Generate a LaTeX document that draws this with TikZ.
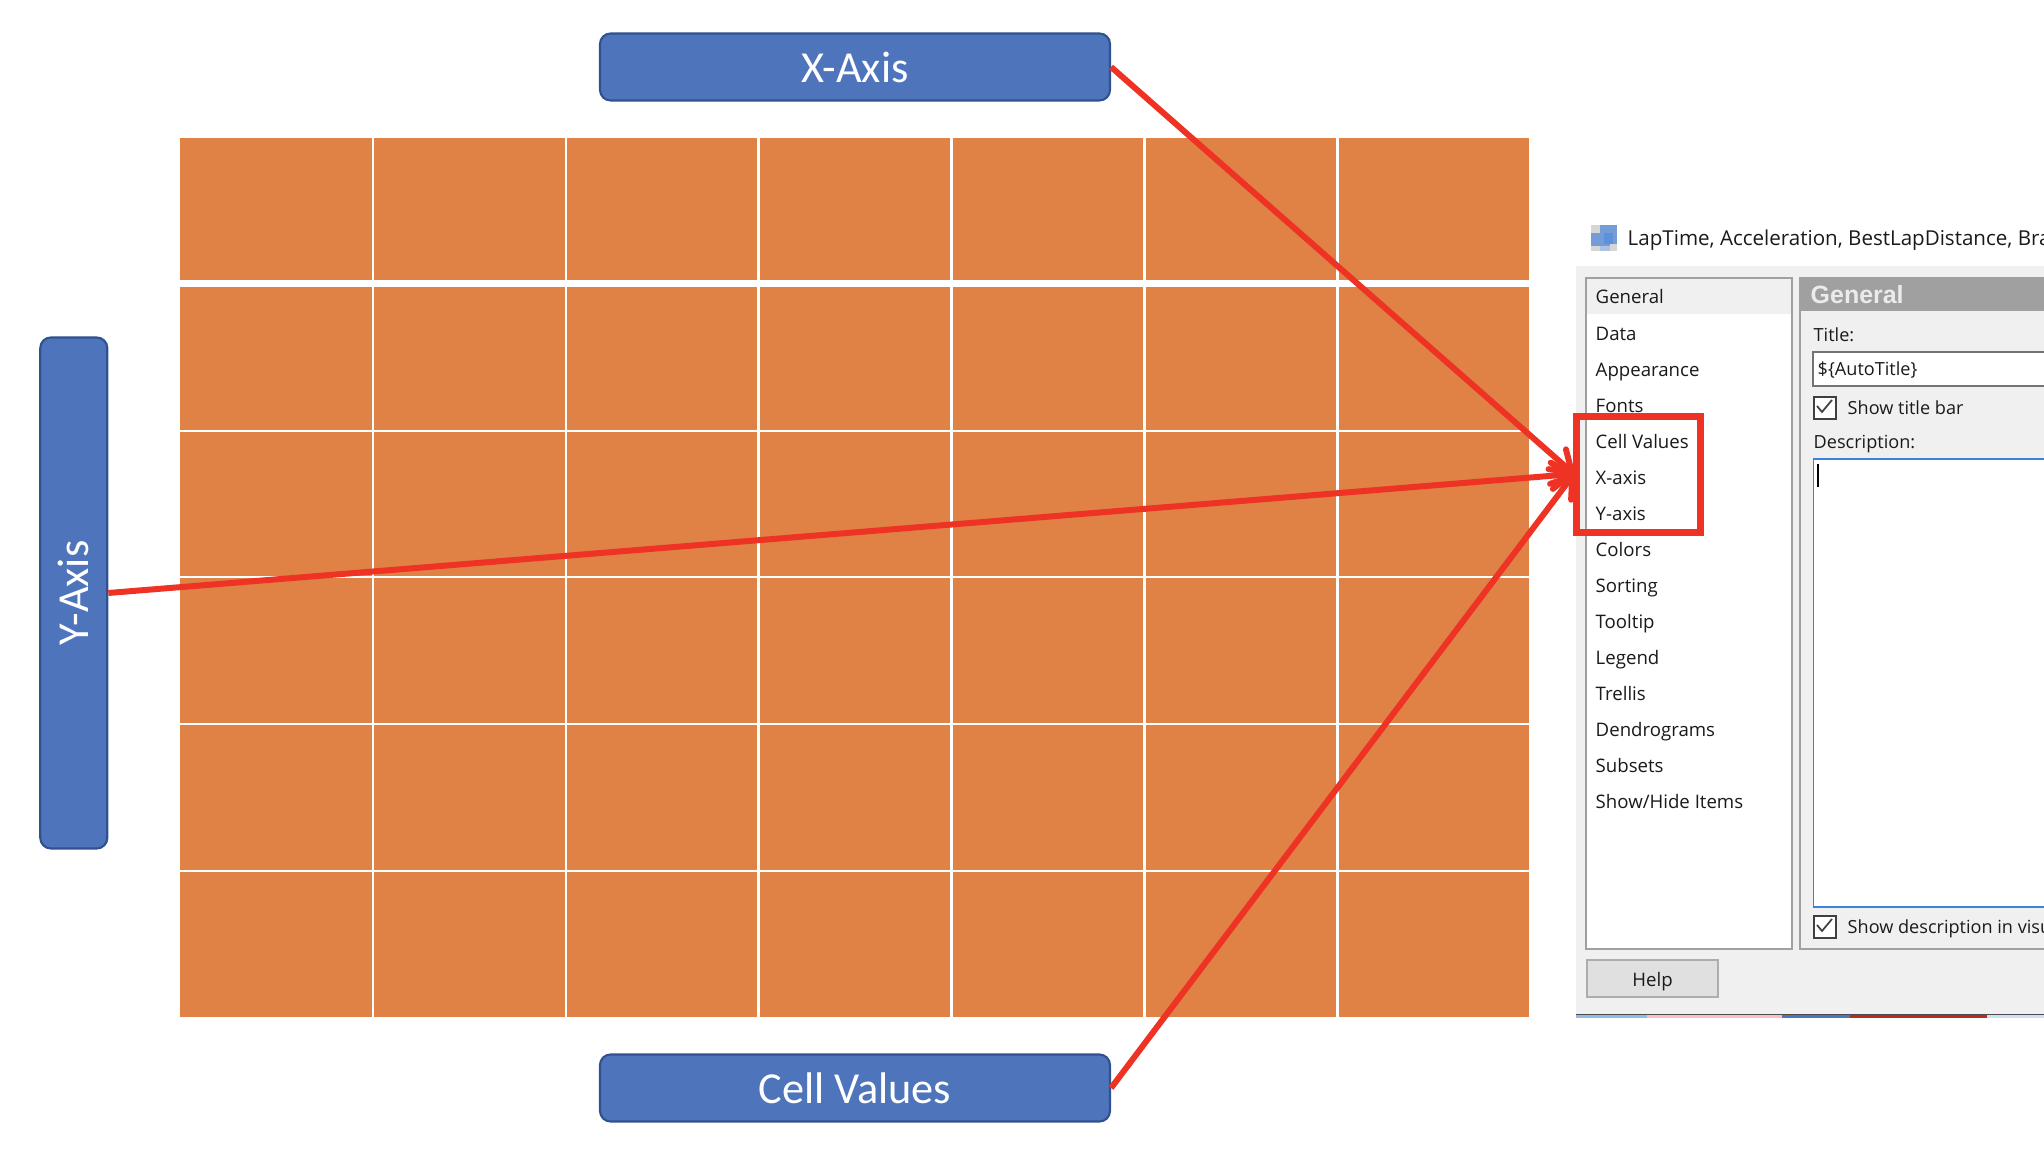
\documentclass[tikz,border=0pt]{standalone}
\usepackage{fontspec}
\setmainfont{Open Sans}
\newfontfamily\boxfont{Carlito}
\newfontfamily\headfont{Liberation Sans}
\usetikzlibrary{arrows.meta}
\definecolor{boxblue}{HTML}{4E74BC}
\definecolor{boxedge}{HTML}{2F528F}
\definecolor{cellorange}{HTML}{E08145}
\definecolor{markred}{HTML}{EE3224}
\definecolor{dialogbg}{HTML}{F0F0F0}
\definecolor{panelgray}{HTML}{A0A0A0}
\definecolor{uitext}{HTML}{1A1A1A}
\definecolor{focusblue}{HTML}{3C82DC}
\tikzset{
  axisbox/.style={draw=boxedge, line width=0.6pt, fill=boxblue, rounded corners=3pt, text=white,
    inner sep=0pt, font=\boxfont\fontsize{12.6}{15}\selectfont},
  gridline/.style={white, line width=0.7pt},
  pointer/.style={markred, line width=1.7pt, -{Straight Barb[round, length=5.5pt, width=7.5pt]}},
  listitem/.style={anchor=base west, inner sep=0pt, text=uitext, font=\fontsize{5.3}{7}\selectfont},
  paneltext/.style={anchor=base west, inner sep=0pt, text=uitext, font=\fontsize{5.15}{7}\selectfont},
  tickbox/.style={draw=black!75, line width=0.6pt, fill=white, minimum size=0.22cm, inner sep=0pt, anchor=north west}
}
\begin{document}
\begin{tikzpicture}
  \useasboundingbox (0,0) rectangle (20.44,11.64);
  % Grid
  \fill[cellorange] (1.80,1.47) rectangle (15.29,10.26);
  \foreach \x in {3.73,5.66,7.585,9.515,11.445,13.375}{
    \draw[gridline] (\x,1.47) -- (\x,10.26);
  }
  \foreach \y in {7.33,5.87,4.40,2.93}{
    \draw[gridline] (1.80,\y) -- (15.29,\y);
  }
  \draw[white, line width=2pt] (1.80,8.80) -- (15.29,8.80);
  % Axis boxes
  \node[axisbox, minimum width=5.10cm, minimum height=0.67cm] (xaxis) at (8.55,10.97) {X-Axis};
  \node[axisbox, minimum width=5.10cm, minimum height=0.67cm] (cellvalues) at (8.55,0.76) {Cell Values};
  \node[axisbox, rotate=90, minimum width=5.11cm, minimum height=0.67cm] (yaxis) at (0.738,5.71) {Y-Axis};
  % Dialog
  \fill[dialogbg] (15.76,1.49) rectangle (20.44,8.98);
  \draw[black!70, line width=0.4pt] (15.76,1.49) -- (20.44,1.49);
  \foreach \a/\b/\c in {15.76/16.47/focusblue!55, 16.47/17.82/red!25, 17.82/18.50/boxblue, 18.50/19.87/markred!80!black, 19.87/20.44/focusblue!25}{
    \fill[\c] (\a,1.46) rectangle (\b,1.485);
  }
  % Title bar
  \fill[black!16] (15.91,9.13) rectangle (16.17,9.39);
  \fill[focusblue!45!boxblue!75] (16.00,9.20) rectangle (16.17,9.39);
  \fill[focusblue!45!boxblue!75] (15.91,9.18) rectangle (16.10,9.31);
  \fill[focusblue!70!boxblue!85] (16.04,9.20) rectangle (16.13,9.31);
  \fill[boxblue!45] (16.00,9.13) rectangle (16.10,9.18);
  \node[paneltext, font=\fontsize{5.85}{7}\selectfont] (titlebar) at (16.27,9.18) {LapTime, Acceleration, BestLapDistance, Bra};
  % List
  \filldraw[fill=white, draw=panelgray, line width=0.55pt] (15.86,2.15) rectangle (17.92,8.86);
  \fill[dialogbg] (15.87,8.50) rectangle (17.91,8.85);
  \foreach \name [count=\i] in {General,Data,Appearance,Fonts,Cell Values,X-axis,Y-axis,Colors,Sorting,Tooltip,Legend,Trellis,Dendrograms,Subsets,Show/Hide Items}{
    \node[listitem] (item\i) at (15.95,{8.60-0.3605*(\i-1)}) {\name};
  }
  % General panel
  \draw[panelgray, line width=0.55pt] (18.00,8.86) -- (18.00,2.15) -- (20.44,2.15);
  \fill[panelgray] (17.99,8.53) rectangle (20.44,8.87);
  \node[anchor=base west, inner sep=0pt, text=white!92!black, font=\headfont\bfseries\fontsize{7.1}{9}\selectfont] (panelhead) at (18.10,8.60) {General};
  \node[paneltext] (titlelabel) at (18.13,8.22) {Title:};
  \filldraw[fill=white, draw=black!55, line width=0.5pt] (18.13,7.78) rectangle (20.50,8.12);
  \node[paneltext] (titletext) at (18.17,7.88) {\$\{AutoTitle\}};
  \node[tickbox] (titletick) at (18.13,7.68) {};
  \draw[black!75, line width=0.5pt] (18.17,7.58) -- (18.22,7.52) -- (18.32,7.64);
  \node[paneltext] (titlebarlabel) at (18.47,7.49) {Show title bar};
  \node[paneltext] (desclabel) at (18.13,7.15) {Description:};
  \filldraw[fill=white, draw=focusblue, line width=0.55pt] (18.135,2.57) rectangle (20.50,7.05);
  \draw[black, line width=0.35pt] (18.18,7.00) -- (18.18,6.77);
  \node[tickbox] (desctick) at (18.13,2.49) {};
  \draw[black!75, line width=0.5pt] (18.17,2.39) -- (18.22,2.33) -- (18.32,2.45);
  \node[paneltext] (desclabelb) at (18.47,2.30) {Show description in visu};
  \node[draw=black!32, line width=0.55pt, fill=black!12, minimum width=1.31cm, minimum height=0.37cm, inner sep=0pt, text=uitext, text height=0.164cm, text depth=0pt, font=\fontsize{5.3}{7}\selectfont] (help) at (16.525,1.855) {Help};
  % Highlight
  \coordinate (target) at (15.74,6.90);
  \node[draw=markred, line width=2pt, minimum width=1.24cm, minimum height=1.16cm, inner sep=0pt] (highlight) at (16.385,6.895) {};
  % Pointers
  \draw[pointer] (xaxis.east) -- (target);
  \draw[pointer] (yaxis.south) -- (target);
  \draw[pointer] (cellvalues.east) -- (target);
\end{tikzpicture}
\end{document}
